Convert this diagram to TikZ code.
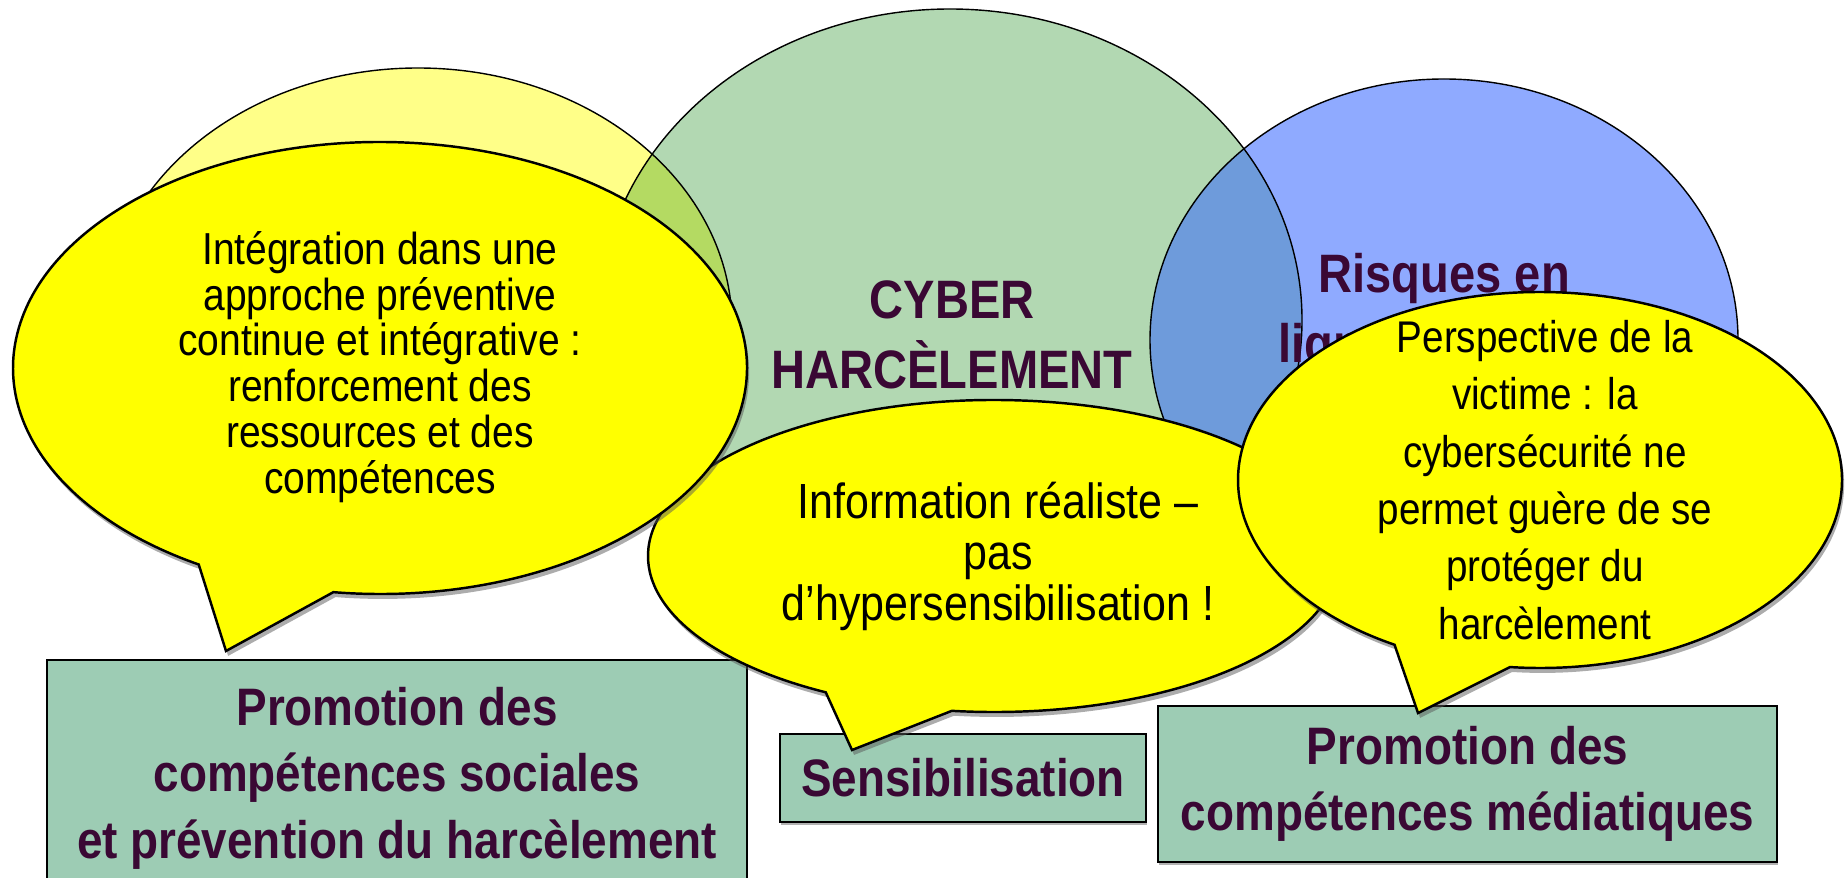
\documentclass[tikz,border=0pt]{standalone}
\usepackage{fontspec}
\setmainfont{Liberation Sans}
\newfontfamily\narrowsans[FakeStretch=0.87]{Liberation Sans}
\usetikzlibrary{shadows}
\definecolor{paleyellow}{RGB}{255,255,136}
\definecolor{cybergreen}{RGB}{178,216,178}
\definecolor{riskblue}{RGB}{143,170,255}
\definecolor{yellowgreen}{RGB}{180,218,98}
\definecolor{greenblue}{RGB}{110,155,219}
\definecolor{boxgreen}{RGB}{157,204,180}
\definecolor{bubbleyellow}{RGB}{255,255,0}
\definecolor{plum}{RGB}{58,8,52}
\begin{document}
\begin{tikzpicture}[
  field/.style={draw=black,line width=0.4pt},
  bubble/.style={draw=black,line width=0.7pt,fill=bubbleyellow,
    drop shadow={shadow xshift=0.6pt,shadow yshift=-1.4pt,fill=black!65}},
  bubbletext/.style={align=center,text=black,inner sep=0pt},
  heading/.style={align=center,text=plum,inner sep=0pt,
    font=\narrowsans\bfseries\fontsize{15.4}{19.9}\selectfont},
  prevbox/.style={draw=black,line width=0.7pt,fill=boxgreen,text=plum,
    align=center,inner sep=0pt,
    drop shadow={shadow xshift=0.4pt,shadow yshift=-0.8pt,fill=black!60},
    font=\narrowsans\bfseries\fontsize{15}{18.9}\selectfont}]
\useasboundingbox (0,0) rectangle (18.45,-8.78);
\coordinate (prev) at (4.18,-3.26);
\coordinate (cyber) at (9.50,-3.20);
\coordinate (risk) at (14.44,-3.40);
\fill[paleyellow] (prev) ellipse[x radius=3.14,y radius=2.58];
\fill[cybergreen] (cyber) ellipse[x radius=3.52,y radius=3.11];
\fill[riskblue] (risk) ellipse[x radius=2.94,y radius=2.61];
\begin{scope}
  \clip (prev) ellipse[x radius=3.14,y radius=2.58];
  \fill[yellowgreen] (cyber) ellipse[x radius=3.52,y radius=3.11];
\end{scope}
\begin{scope}
  \clip (cyber) ellipse[x radius=3.52,y radius=3.11];
  \fill[greenblue] (risk) ellipse[x radius=2.94,y radius=2.61];
\end{scope}
\draw[field] (prev) ellipse[x radius=3.14,y radius=2.58];
\draw[field] (cyber) ellipse[x radius=3.52,y radius=3.11];
\draw[field] (risk) ellipse[x radius=2.94,y radius=2.61];

\node[heading] (cybertext) at (9.52,-3.35) {CYBER\\HARCÈLEMENT};
\node[heading,align=left,anchor=west] (risktext) at (12.78,-3.14) {\hspace*{0.4cm}Risques en\\ligne};

\node[prevbox,minimum width=7.00cm,minimum height=2.36cm] (social) at (3.97,-7.78)
  {Promotion des\\compétences sociales\\et prévention du harcèlement};
\node[prevbox,minimum width=3.66cm,minimum height=0.88cm] (sensi) at (9.63,-7.78)
  {Sensibilisation};
\node[prevbox,minimum width=6.19cm,minimum height=1.56cm] (media) at (14.675,-7.84)
  {Promotion des\\compétences médiatiques};

\coordinate (sensitip) at (8.52,-7.50);
\coordinate (socialtip) at (2.26,-6.51);
\coordinate (mediatip) at (14.18,-7.13);
\draw[bubble] ([shift={(9.94,-5.56)}]263:3.46 and 1.56)
  arc[start angle=263,end angle=600.9,x radius=3.46,y radius=1.56] -- (sensitip) -- cycle;
\draw[bubble] ([shift={(3.80,-3.68)}]262.7:3.67 and 2.26)
  arc[start angle=262.7,end angle=600.4,x radius=3.67,y radius=2.26] -- (socialtip) -- cycle;
\draw[bubble] ([shift={(15.40,-4.80)}]264.3:3.02 and 1.88)
  arc[start angle=264.3,end angle=601.2,x radius=3.02,y radius=1.88] -- (mediatip) -- cycle;

\node[bubbletext,font=\narrowsans\fontsize{14.05}{14.5}\selectfont] (sensitext) at (9.98,-5.56)
  {Information réaliste –\\pas\\d’hypersensibilisation !};
\node[bubbletext,font=\narrowsans\fontsize{12.75}{13.03}\selectfont] (socialtext) at (3.80,-3.67)
  {Intégration dans une\\approche préventive\\continue et intégrative :\\renforcement des\\ressources et des\\compétences};
\node[bubbletext,font=\narrowsans\fontsize{12.63}{16.33}\selectfont] (mediatext) at (15.45,-4.80)
  {Perspective de la\\victime : la\\cybersécurité ne\\permet guère de se\\protéger du\\harcèlement};
\end{tikzpicture}
\end{document}
